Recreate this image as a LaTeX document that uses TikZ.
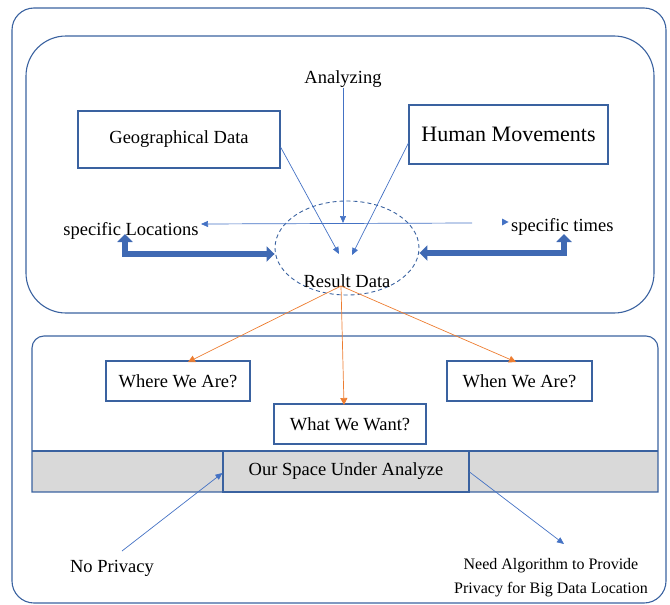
\documentclass[tikz,border=0pt]{standalone}
\usepackage{fontspec}
\setmainfont{Liberation Serif}
\usetikzlibrary{arrows.meta,shapes.geometric}
\definecolor{frameblue}{HTML}{3A62A0}
\definecolor{lineblue}{HTML}{4472C4}
\definecolor{thickblue}{HTML}{3F69B3}
\definecolor{orng}{HTML}{ED7D31}
\definecolor{band}{HTML}{D9D9D9}
\tikzset{
  frame/.style={draw=frameblue,line width=1.1pt},
  boxb/.style={draw=frameblue,line width=1.1pt,fill=white,rectangle,inner sep=0pt,font=\fontsize{18.5}{20}\selectfont},
  lbl/.style={inner sep=0pt,font=\fontsize{18.5}{20}\selectfont},
  thinarrow/.style={draw=lineblue,line width=0.7pt,-{Triangle[length=7pt,width=6pt]}},
  orarrow/.style={draw=orng,line width=0.7pt,-{Triangle[length=7pt,width=7pt]}},
  fatarrow/.style={draw=thickblue,line width=6.5pt,{Triangle[length=8pt,width=15pt]}-{Triangle[length=8pt,width=15pt]}}
}
\begin{document}
\begin{tikzpicture}[x=1pt,y=-1pt]
\useasboundingbox (0,0) rectangle (670,605);
% outer frame
\draw[frame,rounded corners=22] (12,8) rectangle (666,603);
% top inner frame
\draw[frame,rounded corners=40] (26,36) rectangle (654,313);
% middle frame with gray band
\fill[band] (32,451) rectangle (658,492);
\draw[frame] (32,492) -- (32,400) [rounded corners=12] -- (32,336) -- (658,336) -- (658,400) [sharp corners] -- (658,492) -- cycle;
\draw[frame] (32,451) -- (658,451);
\node[boxb,fill=band,minimum width=246pt,minimum height=41pt] (space) at (346,471.5) {Our Space Under Analyze};

% top section nodes
\node[lbl] (ana) at (343,79) {Analyzing};
\node[boxb,minimum width=202pt,minimum height=57pt] (geo) at (179,139.5) {Geographical Data};
\node[boxb,minimum width=199pt,minimum height=59pt,font=\fontsize{22}{24}\selectfont] (hum) at (508.5,134.5) {Human Movements};
\node[draw=frameblue,line width=0.9pt,dash pattern=on 4pt off 3pt,ellipse,minimum width=144pt,minimum height=94pt] (ell) at (347,248) {};
\node[lbl] (res) at (347,281) {Result Data};
\node[lbl] (loc) at (131,231) {specific Locations};
\node[lbl,anchor=west] (tim) at (511,227) {specific times};

\coordinate (hr) at (472,223);
\coordinate (hl) at (201,224);
\coordinate (hm) at (343,223);
\coordinate (gtip) at (339,254);
\coordinate (htip) at (352,255);
\coordinate (resTop) at (341,286);

\draw[thinarrow] (ana.south) -- (hm);
\draw[thinarrow] (hr) -- (hl);
\fill[lineblue] (502,218.5) -- (508.5,222) -- (502,225.5) -- cycle;
\draw[thinarrow] (geo.east |- 0,147) -- (gtip);
\draw[thinarrow] (hum.west |- 0,143) -- (htip);

\draw[fatarrow] (125,234) |- (ell.west |- 0,254);
\draw[fatarrow] (ell.east |- 0,253) -| (564,234);

% middle boxes
\node[boxb,minimum width=144pt,minimum height=40pt] (where) at (178,381) {Where We Are?};
\node[boxb,minimum width=145pt,minimum height=40pt] (when) at (519.5,381) {When We Are?};
\node[boxb,minimum width=152pt,minimum height=40pt] (what) at (350,424) {What We Want?};

\draw[orarrow] (resTop) -- (188,362);
\draw[orarrow] (resTop) -- (344,405);
\draw[orarrow] (resTop) -- (516,362);

% bottom labels
\node[lbl] (np) at (112,568) {No Privacy};
\node[lbl,align=center,font=\fontsize{16}{24}\selectfont] (need) at (551,578) {Need Algorithm to Provide\\Privacy for Big Data Location};
\coordinate (npStart) at (122,551);
\coordinate (needTip) at (564,544);
\draw[thinarrow] (npStart) -- (space.west |- 0,473);
\draw[thinarrow] (space.east |- 0,472) -- (needTip);
\end{tikzpicture}
\end{document}
